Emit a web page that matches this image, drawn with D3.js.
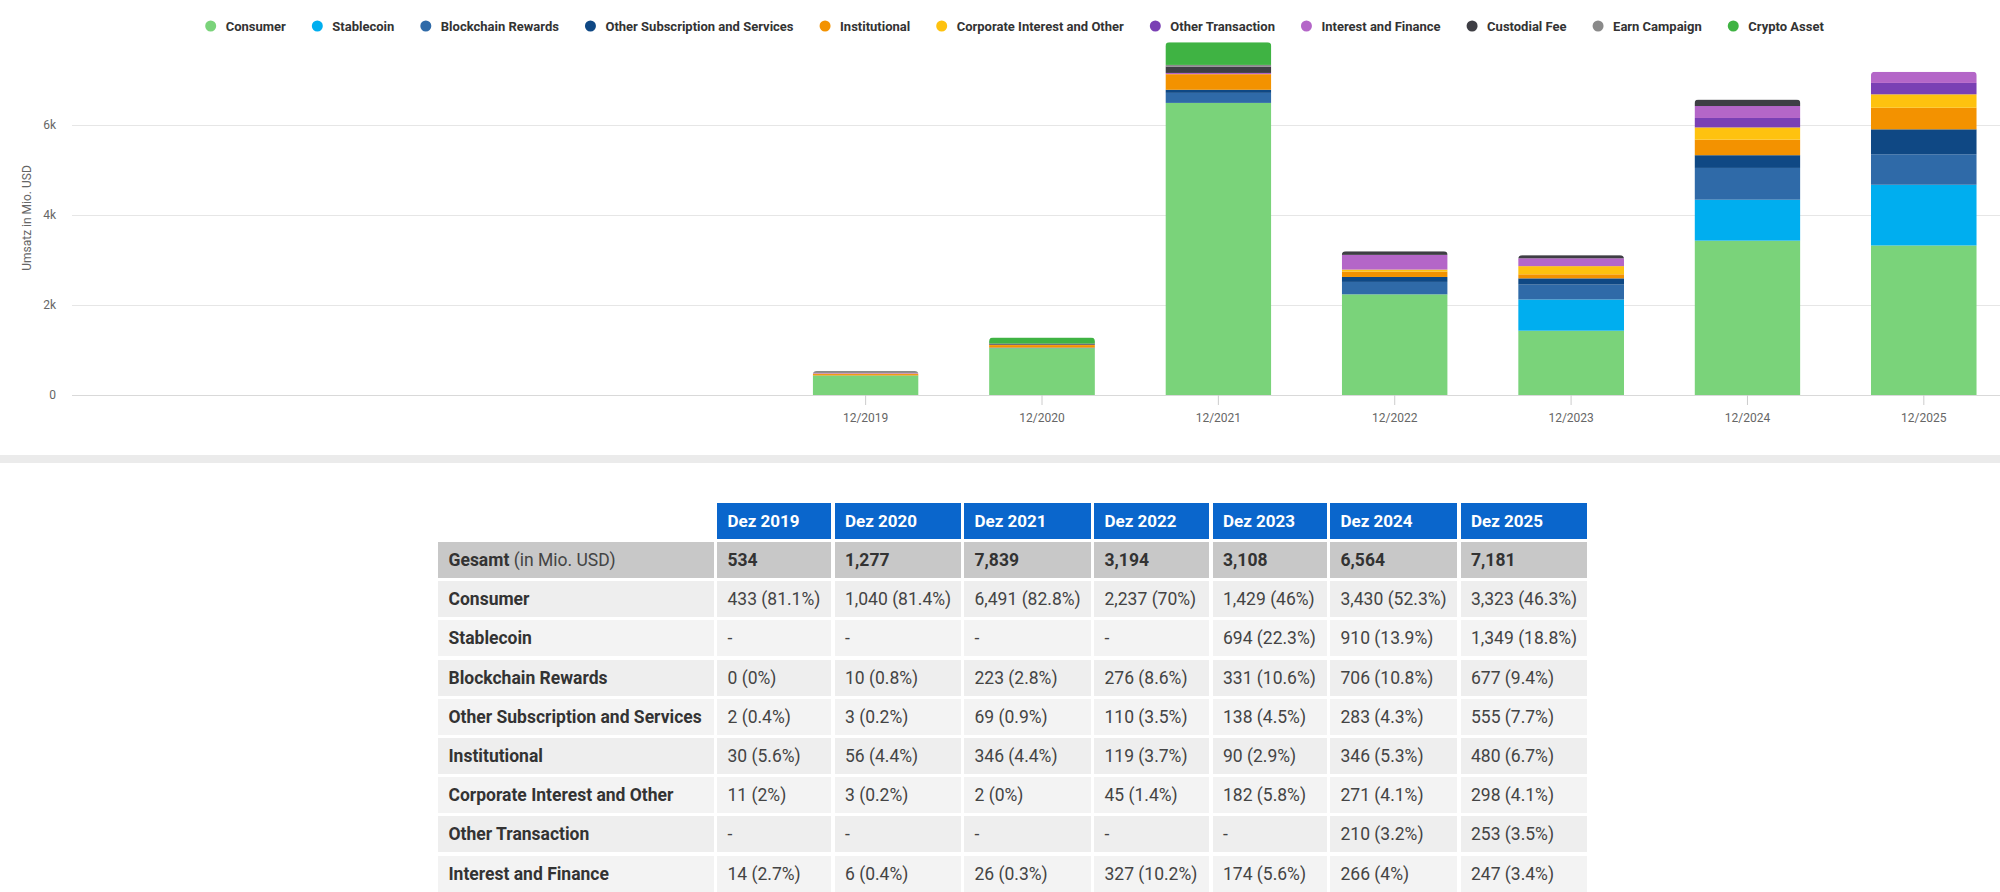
<!DOCTYPE html>
<html><head><meta charset="utf-8">
<script src="https://cdn.jsdelivr.net/npm/d3@7"></script>
<style>
html,body{margin:0;padding:0;background:#fff;width:2000px;height:892px;overflow:hidden;font-family:Roboto,"Noto Sans",sans-serif;}
#sep{position:absolute;left:0;top:455px;width:2000px;height:8px;background:#ebebeb;}
.cell{position:absolute;box-sizing:border-box;padding-left:10.5px;display:flex;align-items:center;font-size:17.5px;white-space:nowrap;color:#444;}
</style></head><body>
<svg id="chart" width="2000" height="455" style="position:absolute;left:0;top:0"></svg>
<div id="sep"></div>
<div id="table"></div>
<script>
// ---------- DATA ----------
const categories = ["12/2019","12/2020","12/2021","12/2022","12/2023","12/2024","12/2025"];
const tableHeaders = ["Dez 2019","Dez 2020","Dez 2021","Dez 2022","Dez 2023","Dez 2024","Dez 2025"];
const seriesNames = ["Consumer","Stablecoin","Blockchain Rewards","Other Subscription and Services","Institutional","Corporate Interest and Other","Other Transaction","Interest and Finance","Custodial Fee","Earn Campaign","Crypto Asset"];
const seriesColors = ["#7ad37a","#00aeef","#2f6aa8","#0f4884","#f39200","#fec20f","#7a40b4","#b466c8","#3e3e44","#8a8a8a","#3fb343"];
const consumer        = [433, 1040, 6491, 2237, 1429, 3430, 3323];
const stablecoin      = [null, null, null, null, 694, 910, 1349];
const blockchainRew   = [0, 10, 223, 276, 331, 706, 677];
const otherSubscr     = [2, 3, 69, 110, 138, 283, 555];
const institutional   = [30, 56, 346, 119, 90, 346, 480];
const corporateInt    = [11, 3, 2, 45, 182, 271, 298];
const otherTrans      = [null, null, null, null, null, 210, 253];
const interestFin     = [14, 6, 26, 327, 174, 266, 247];
const custodialFee    = [0, 25, 141, 80, 70, 142, 0];
const earnCampaign    = [44, 0, 37, 0, 0, 0, 0];
const cryptoAsset     = [0, 134, 504, 0, 0, 0, 0];
const totals          = [534, 1277, 7839, 3194, 3108, 6564, 7181];
const consumerPct     = [81.1, 81.4, 82.8, 70, 46, 52.3, 46.3];
const stablecoinPct   = [null, null, null, null, 22.3, 13.9, 18.8];
const blockchainPct   = [0, 0.8, 2.8, 8.6, 10.6, 10.8, 9.4];
const otherSubscrPct  = [0.4, 0.2, 0.9, 3.5, 4.5, 4.3, 7.7];
const institutionalPct= [5.6, 4.4, 4.4, 3.7, 2.9, 5.3, 6.7];
const corporatePct    = [2, 0.2, 0, 1.4, 5.8, 4.1, 4.1];
const otherTransPct   = [null, null, null, null, null, 3.2, 3.5];
const interestPct     = [2.7, 0.4, 0.3, 10.2, 5.6, 4, 3.4];
const yTicks = [0, 2000, 4000, 6000];
const yTitle = "Umsatz in Mio. USD";

const seriesValues = [consumer, stablecoin, blockchainRew, otherSubscr, institutional, corporateInt, otherTrans, interestFin, custodialFee, earnCampaign, cryptoAsset];
const tablePct = [consumerPct, stablecoinPct, blockchainPct, otherSubscrPct, institutionalPct, corporatePct, otherTransPct, interestPct];

// ---------- CHART ----------
const svg = d3.select("#chart");
const plotLeft = 72, plotRight = 2012, plotTop = 35, plotBottom = 395;
const slotCount = 11;
const step = (plotRight - plotLeft) / slotCount;
const x = d3.scaleBand().domain(categories)
  .range([plotRight - categories.length * step, plotRight])
  .paddingInner(0.4).paddingOuter(0.2);
const y = d3.scaleLinear().domain([0, 8000]).range([plotBottom, plotTop]);

// gridlines
svg.append("g").selectAll("line").data(yTicks).join("line")
  .attr("x1", plotLeft).attr("x2", plotRight)
  .attr("y1", d => Math.round(y(d)) + 0.5).attr("y2", d => Math.round(y(d)) + 0.5)
  .attr("stroke", d => d === 0 ? "#d9d9d9" : "#e6e6e6").attr("stroke-width", 1);

// y labels
const yAxis = d3.axisLeft(y).tickValues(yTicks).tickFormat(d3.format("~s")).tickSize(0).tickPadding(0);
const ga = svg.append("g").attr("transform", `translate(56,0)`).call(yAxis);
ga.select(".domain").remove();
ga.selectAll("text").attr("font-size", 12).attr("fill", "#666").attr("font-family", "Roboto");

svg.append("text").attr("transform", "translate(31,218) rotate(-90)")
  .attr("text-anchor", "middle").attr("font-size", 12).attr("fill", "#666")
  .attr("font-family", "Roboto").text(yTitle);

// stacked data
const rows = categories.map((c, i) => {
  const o = {cat: c};
  seriesNames.forEach((s, j) => o[s] = seriesValues[j][i] || 0);
  return o;
});
const stack = d3.stack().keys(seriesNames)(rows);

// clip paths with rounded tops
const defs = svg.append("defs");
const r = 4;
rows.forEach((row, i) => {
  const top = y(d3.sum(seriesNames, s => row[s]));
  const x0 = x(row.cat), w = x.bandwidth(), b = y(0);
  defs.append("clipPath").attr("id", "clip" + i).append("path")
    .attr("d", `M${x0},${b} L${x0},${top + r} Q${x0},${top} ${x0 + r},${top} L${x0 + w - r},${top} Q${x0 + w},${top} ${x0 + w},${top + r} L${x0 + w},${b} Z`);
});

const barsG = svg.append("g");
rows.forEach((row, i) => {
  const g = barsG.append("g").attr("clip-path", `url(#clip${i})`);
  stack.forEach((layer, j) => {
    const d = layer[i];
    if (d[1] - d[0] <= 0) return;
    g.append("rect").attr("x", x(row.cat)).attr("width", x.bandwidth())
      .attr("y", y(d[1])).attr("height", y(d[0]) - y(d[1]))
      .attr("fill", seriesColors[j]);
  });
});

// x axis ticks & labels
const xAxis = d3.axisBottom(x).tickSize(10).tickPadding(8);
const gx = svg.append("g").attr("transform", `translate(0,${plotBottom})`).call(xAxis);
gx.select(".domain").remove();
gx.selectAll("line").attr("stroke", "#cccccc");
gx.selectAll("text").attr("font-size", 12).attr("fill", "#666").attr("font-family", "Roboto");

// legend
const legend = svg.append("g");
const items = legend.selectAll("g").data(seriesNames).join("g");
items.append("circle").attr("r", 5.5).attr("cy", 26).attr("fill", (d, i) => seriesColors[i]);
items.append("text").attr("x", 15).attr("y", 26).attr("dy", "0.35em")
  .attr("font-size", 13).attr("font-weight", "bold").attr("fill", "#333")
  .attr("font-family", "Roboto").text(d => d);
let cx = 0; const pos = [];
items.each(function (d, i) {
  const w = d3.select(this).select("text").node().getComputedTextLength();
  pos.push(cx);
  cx += 15 + w + 31.5;
});
const totalW = cx - 31.5 + 5.5;
const startX = 1014.5 - totalW / 2 + 5.5;
items.attr("transform", (d, i) => `translate(${startX + pos[i]},0)`);

// ---------- TABLE ----------
const colWidths = [275.5, 114, 126, 126.5, 115, 114, 127, 126.5];
const gap = 3.5, tableLeft = 438, tableTop = 502.7, rowH = 36, rowPitch = 39.2;
const colLeft = [];
colWidths.reduce((acc, w) => { colLeft.push(acc); return acc + w + gap; }, tableLeft);
const tbl = d3.select("#table");
const fmt = d3.format(",");
function cell(ri, ci, bg, html, style) {
  const dv = tbl.append("div").attr("class", "cell")
    .style("left", colLeft[ci] + "px").style("width", colWidths[ci] + "px")
    .style("top", (tableTop + ri * rowPitch) + "px").style("height", rowH + "px")
    .style("background", bg).html(html);
  if (style) Object.entries(style).forEach(([k, v]) => dv.style(k, v));
}
tableHeaders.forEach((h, i) => cell(0, i + 1, "#0a66cc", h, {color: "#fff", "font-weight": "bold", "font-size": "17px"}));
cell(1, 0, "#c8c8c8", "<b style='color:#333'>Gesamt</b>&nbsp;(in Mio. USD)", {color: "#444"});
totals.forEach((t, i) => cell(1, i + 1, "#c8c8c8", fmt(t), {"font-weight": "bold", color: "#333"}));
tablePct.forEach((pcts, s) => {
  const bg = s % 2 === 0 ? "#eeeeee" : "#f3f3f3";
  cell(s + 2, 0, bg, seriesNames[s], {"font-weight": "bold", color: "#333"});
  seriesValues[s].forEach((v, i) => {
    const txt = v == null ? "-" : `${fmt(v)} (${pcts[i]}%)`;
    cell(s + 2, i + 1, bg, txt);
  });
});
</script>
</body></html>
